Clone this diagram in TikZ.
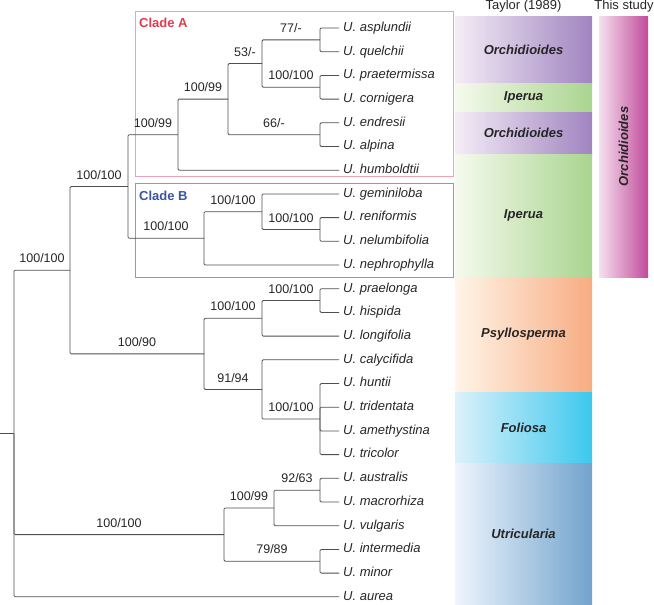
\documentclass[tikz,border=0pt]{standalone}
\usepackage{fontspec}
\setmainfont{Liberation Sans}
\usetikzlibrary{positioning}
\usetikzlibrary{calc}

\definecolor{branchcol}{HTML}{4F4F4F}
\definecolor{orchL}{HTML}{F4EDF7}
\definecolor{orchR}{HTML}{A084C0}
\definecolor{ipeL}{HTML}{F6FAEE}
\definecolor{ipeR}{HTML}{A9D48F}
\definecolor{psyL}{HTML}{FFF5E8}
\definecolor{psyR}{HTML}{F7AC82}
\definecolor{folL}{HTML}{DDF1FA}
\definecolor{folR}{HTML}{3CC8EE}
\definecolor{utrL}{HTML}{EEF5FC}
\definecolor{utrR}{HTML}{72A3CE}
\definecolor{studyL}{HTML}{F5E0EF}
\definecolor{studyR}{HTML}{C14B9B}
\definecolor{boxA}{HTML}{EFA3B2}
\definecolor{textA}{HTML}{E23A4E}
\definecolor{boxB}{HTML}{8E96CF}
\definecolor{textB}{HTML}{3A56A2}

\tikzset{
  branch/.style={draw=branchcol,line width=0.8pt,rounded corners=1.2pt},
  cladebox/.style={line width=1pt},
  taxon/.style={anchor=west,inner xsep=4pt,inner ysep=0pt,text height=9.3pt,text depth=2.7pt,font=\fontsize{13}{15}\selectfont\itshape,text=black!85},
  supp/.style={anchor=south,inner xsep=0pt,inner ysep=7pt,text height=9.3pt,text depth=0pt,font=\fontsize{12.5}{15}\selectfont,text=black!85},
  bandlbl/.style={font=\fontsize{13}{15}\selectfont\bfseries\itshape,text=black!85},
  head/.style={font=\fontsize{13}{15}\selectfont,text=black!85},
  cladelbl/.style={anchor=west,inner sep=0pt,font=\fontsize{13}{15}\selectfont\bfseries}
}

\begin{document}
\begin{tikzpicture}[x=1pt,y=-1pt]
\useasboundingbox (0,0) rectangle (654,605);

% sections of Taylor (1989)
\foreach \ya/\yb/\lc/\rc/\nm [count=\k] in {16/83/orchL/orchR/Orchidioides,83/112/ipeL/ipeR/Iperua,112/154/orchL/orchR/Orchidioides,154/277/ipeL/ipeR/Iperua,277/392/psyL/psyR/Psyllosperma,392/463/folL/folR/Foliosa,463/605/utrL/utrR/Utricularia}{
  \shade[left color=\lc,right color=\rc] (455,\ya) rectangle (592,\yb);
  \node[bandlbl] (band\k) at (523.5,{(\ya+\yb)/2}) {\nm};
}
\shade[left color=studyL,right color=studyR] (599,16) rectangle (648,277);
\node[bandlbl,rotate=90] (study) at (623.5,146.5) {Orchidioides};
\node[head] (taylor) at (523.5,6) {Taylor (1989)};
\node[head] (this) at (624,6) {This study};

\draw[cladebox,draw=boxA] (135.5,11.5) rectangle (453.5,176.5);
\draw[cladebox,draw=boxB] (135.5,183.5) rectangle (453.5,277.5);
\node[cladelbl,text=textA] (cladeA) at (139,23) {Clade A};
\node[cladelbl,text=textB] (cladeB) at (139,196) {Clade B};

\foreach \sp [count=\i from 0] in {asplundii,quelchii,praetermissa,cornigera,endresii,alpina,humboldtii,geminiloba,reniformis,nelumbifolia,nephrophylla,praelonga,hispida,longifolia,calycifida,huntii,tridentata,amethystina,tricolor,australis,macrorhiza,vulgaris,intermedia,minor,aurea}
  \node[taxon] (\sp) at (339,{28+23.7*\i}) {U. \sp};

\coordinate (r0) at (0,433.5);
\coordinate (r) at (14,433.5);
\coordinate (n2) at (70,270.2);
\coordinate (n3) at (128,186.5);
\coordinate (na) at (178,134.65);
\coordinate (na2) at (228,99.1);
\coordinate (na3) at (262,63.55);
\coordinate (c1) at (320,39.85);
\coordinate (c2) at (320,87.25);
\coordinate (c3) at (320,134.65);
\coordinate (nb) at (204,238.3);
\coordinate (nb2) at (262,211.7);
\coordinate (c4) at (320,229.45);
\coordinate (np) at (204,353.85);
\coordinate (np1) at (262,318.3);
\coordinate (c5) at (320,300.55);
\coordinate (np2) at (262,389.4);
\coordinate (c6) at (320,419.05);
\coordinate (nu) at (224,534.6);
\coordinate (nu1) at (274,507.9);
\coordinate (c7) at (320,490.15);
\coordinate (c8) at (320,561.25);

\draw[branch] (r0) -- (r);
\draw[branch] (r) |- node[supp,pos=0.75] {100/100} (n2);
\draw[branch] (r) |- node[supp,pos=0.75] {100/100} (nu);
\draw[branch] (r) |- (aurea.west);
\draw[branch] (n2) |- node[supp,pos=0.75] {100/100} (n3);
\draw[branch] (n2) |- node[supp,pos=0.75] {100/90} (np);
\draw[branch] (n3) |- node[supp,pos=0.75] {100/99} (na);
\draw[branch] (n3) |- node[supp,pos=0.75] {100/100} (nb);

% clade A
\draw[branch] (na) |- node[supp,pos=0.75] {100/99} (na2);
\draw[branch] (na) |- (humboldtii.west);
\draw[branch] (na2) |- node[supp,pos=0.75] {53/-} (na3);
\draw[branch] (na2) |- node[supp,pos=0.75] {66/-} (c3);
\draw[branch] (na3) |- node[supp,pos=0.75] {77/-} (c1);
\draw[branch] (na3) |- node[supp,pos=0.75] {100/100} (c2);
\draw[branch] (c1) |- (asplundii.west);
\draw[branch] (c1) |- (quelchii.west);
\draw[branch] (c2) |- (praetermissa.west);
\draw[branch] (c2) |- (cornigera.west);
\draw[branch] (c3) |- (endresii.west);
\draw[branch] (c3) |- (alpina.west);

% clade B
\draw[branch] (nb) |- node[supp,pos=0.75] {100/100} (nb2);
\draw[branch] (nb) |- (nephrophylla.west);
\draw[branch] (nb2) |- (geminiloba.west);
\draw[branch] (nb2) |- node[supp,pos=0.75] {100/100} (c4);
\draw[branch] (c4) |- (reniformis.west);
\draw[branch] (c4) |- (nelumbifolia.west);

% Psyllosperma and Foliosa
\draw[branch] (np) |- node[supp,pos=0.75] {100/100} (np1);
\draw[branch] (np) |- node[supp,pos=0.75] {91/94} (np2);
\draw[branch] (np1) |- node[supp,pos=0.75] {100/100} (c5);
\draw[branch] (np1) |- (longifolia.west);
\draw[branch] (c5) |- (praelonga.west);
\draw[branch] (c5) |- (hispida.west);
\draw[branch] (np2) |- (calycifida.west);
\draw[branch] (np2) |- node[supp,pos=0.75] {100/100} (c6);
\draw[branch] (c6) |- (huntii.west);
\draw[branch] (c6) |- (tridentata.west);
\draw[branch] (c6) |- (amethystina.west);
\draw[branch] (c6) |- (tricolor.west);

% Utricularia
\draw[branch] (nu) |- node[supp,pos=0.75] {100/99} (nu1);
\draw[branch] (nu) |- node[supp,pos=0.75] {79/89} (c8);
\draw[branch] (nu1) |- node[supp,pos=0.75] {92/63} (c7);
\draw[branch] (nu1) |- (vulgaris.west);
\draw[branch] (c7) |- (australis.west);
\draw[branch] (c7) |- (macrorhiza.west);
\draw[branch] (c8) |- (intermedia.west);
\draw[branch] (c8) |- (minor.west);
\end{tikzpicture}
\end{document}
